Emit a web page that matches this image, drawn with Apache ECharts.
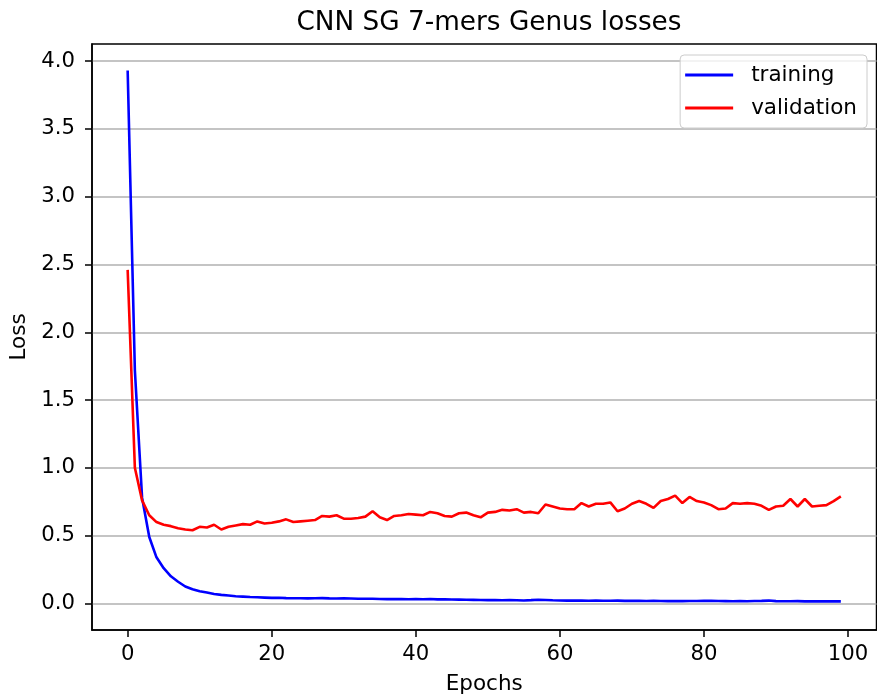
<!DOCTYPE html>
<html>
<head>
<meta charset="utf-8">
<script src="https://cdn.jsdelivr.net/npm/echarts@6/dist/echarts.min.js"></script>
<style>html,body{margin:0;padding:0;background:#fff}#c{width:877px;height:700px}</style>
</head>
<body>
<div id="c"></div>
<script>
var epochs = [0,1,2,3,4,5,6,7,8,9,10,11,12,13,14,15,16,17,18,19,20,21,22,23,24,25,26,27,28,29,30,31,32,33,34,35,36,37,38,39,40,41,42,43,44,45,46,47,48,49,50,51,52,53,54,55,56,57,58,59,60,61,62,63,64,65,66,67,68,69,70,71,72,73,74,75,76,77,78,79,80,81,82,83,84,85,86,87,88,89,90,91,92,93,94,95,96,97,98,99];
var training = [3.93,1.72,0.78,0.49,0.34,0.26,0.20,0.16,0.125,0.105,0.09,0.08,0.07,0.063,0.058,0.053,0.05,0.047,0.045,0.043,0.041,0.042,0.039,0.038,0.038,0.037,0.038,0.039,0.037,0.036,0.037,0.036,0.035,0.034,0.035,0.033,0.032,0.033,0.032,0.031,0.032,0.031,0.033,0.030,0.030,0.029,0.028,0.027,0.026,0.025,0.024,0.024,0.023,0.024,0.023,0.022,0.024,0.027,0.025,0.023,0.022,0.021,0.022,0.021,0.020,0.021,0.020,0.020,0.021,0.019,0.019,0.020,0.018,0.019,0.018,0.017,0.018,0.017,0.018,0.018,0.019,0.020,0.018,0.017,0.016,0.017,0.016,0.018,0.019,0.021,0.017,0.016,0.016,0.017,0.015,0.016,0.015,0.016,0.015,0.015];
var validation = [2.46,1.00,0.76,0.65,0.60,0.58,0.57,0.555,0.545,0.54,0.565,0.56,0.58,0.545,0.565,0.575,0.585,0.58,0.605,0.59,0.595,0.605,0.62,0.60,0.605,0.61,0.615,0.645,0.64,0.65,0.625,0.625,0.63,0.64,0.68,0.635,0.615,0.645,0.65,0.66,0.655,0.65,0.675,0.665,0.645,0.64,0.665,0.67,0.65,0.635,0.67,0.675,0.69,0.685,0.695,0.67,0.675,0.665,0.73,0.715,0.70,0.695,0.695,0.74,0.715,0.735,0.735,0.745,0.68,0.70,0.735,0.755,0.735,0.705,0.755,0.77,0.795,0.74,0.785,0.755,0.745,0.725,0.695,0.70,0.74,0.735,0.74,0.735,0.72,0.69,0.715,0.72,0.77,0.715,0.77,0.715,0.72,0.725,0.755,0.79];
var xTicks = [0,20,40,60,80,100];
var yTicks = [0,0.5,1.0,1.5,2.0,2.5,3.0,3.5,4.0];

function pairs(ys){ var out=[]; for (var i=0;i<epochs.length;i++) out.push([epochs[i], ys[i]]); return out; }

var font = 'DejaVu Sans';
var chart = echarts.init(document.getElementById('c'), null, {renderer:'canvas'});
chart.setOption({
  animation: false,
  backgroundColor: '#fff',
  title: {
    text: 'CNN SG 7-mers Genus losses',
    left: 484, top: 5, textAlign: 'center',
    textStyle: {fontFamily: font, fontSize: 26.3, fontWeight: 'normal', color: '#000'}
  },
  legend: {
    right: 10, top: 55, orient: 'vertical',
    data: ['training','validation'],
    icon: 'rect', itemWidth: 48, itemHeight: 3, itemGap: 11,
    backgroundColor: 'rgba(255,255,255,0.8)', borderColor: '#cccccc', borderWidth: 1, borderRadius: 4,
    padding: [9, 10, 9, 5],
    textStyle: {fontFamily: font, fontSize: 21.5, color: '#000', lineHeight: 22, padding: [0,0,0,13]}
  },
  grid: {left: 92, right: 0.5, top: 44, bottom: 70, show: true, borderColor: '#000', borderWidth: 1.5, backgroundColor: 'transparent'},
  xAxis: {
    type: 'value', min: -4.95, max: 103.95,
    name: 'Epochs', nameLocation: 'middle', nameGap: 43,
    nameTextStyle: {fontFamily: font, fontSize: 21.5, color: '#000'},
    axisLine: {show: true, onZero: false, lineStyle: {color: '#000', width: 1.5}},
    axisTick: {show: true, length: 7, customValues: xTicks, lineStyle: {color: '#000', width: 1.5}},
    axisLabel: {customValues: xTicks, margin: 14, fontFamily: font, fontSize: 21.2, color: '#000'},
    splitLine: {show: false}
  },
  yAxis: {
    type: 'value', min: -0.196, max: 4.126,
    name: 'Loss', nameLocation: 'middle', nameGap: 59,
    nameTextStyle: {fontFamily: font, fontSize: 21.5, color: '#000'},
    axisLine: {show: true, onZero: false, lineStyle: {color: '#000', width: 1.5}},
    axisTick: {show: true, length: 7, customValues: yTicks, lineStyle: {color: '#000', width: 1.5}},
    axisLabel: {customValues: yTicks, margin: 17, fontFamily: font, fontSize: 21.2, color: '#000',
      formatter: function(v){ return v.toFixed(1); }},
    splitLine: {show: true, lineStyle: {color: '#b0b0b0', width: 1.5}}
  },
  series: [
    {name: 'training', type: 'line', data: pairs(training), showSymbol: false, symbol: 'none',
     itemStyle: {color: '#0000ff'}, lineStyle: {color: '#0000ff', width: 2.6}},
    {name: 'validation', type: 'line', data: pairs(validation), showSymbol: false, symbol: 'none',
     itemStyle: {color: '#ff0000'}, lineStyle: {color: '#ff0000', width: 2.6}}
  ]
});
</script>
</body>
</html>
